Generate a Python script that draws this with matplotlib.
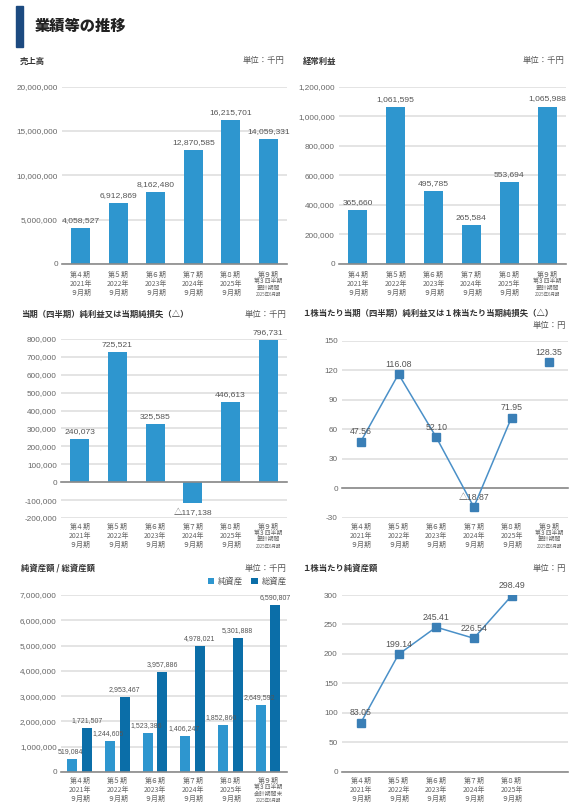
import numpy as np
import matplotlib
matplotlib.use("Agg")
from matplotlib import pyplot as plt
from matplotlib import font_manager
from matplotlib.patches import Patch, Rectangle

# --- data ---
periods = ["第４期", "第５期", "第６期", "第７期", "第８期", "第９期"]
fiscal_years = ["2021年", "2022年", "2023年", "2024年", "2025年"]
month_label = "９月期"
q3_cumulative = ["第３四半期", "累計期間", "2025年6月期"]
q3_end = ["第３四半期", "会計期間末", "2025年6月期"]

sales = [4058527, 6912869, 8162480, 12870585, 16215701, 14059331]
ordinary_profit = [365660, 1061595, 495785, 265584, 553694, 1065988]
net_income = [240073, 725521, 325585, -117138, 446613, 796731]
eps = [47.56, 116.08, 52.10, -18.87, 71.95, 128.35]
net_assets = [519084, 1244605, 1523386, 1406247, 1852860, 2649592]
total_assets = [1721507, 2953467, 3957886, 4978021, 5301888, 6590807]
bps = [83.05, 199.14, 245.41, 226.54, 298.49]

W, H = 588, 806
BAR = "#2e96cf"
DARK_BAR = "#0b6ea8"
LINE = "#4a90c8"
MARK = "#3a7fb6"
GRID = "#dcdcdc"
ZERO = "#8a8a8a"
TXT = "#333333"
TICK = "#666666"

_names = {f.name for f in font_manager.fontManager.ttflist}
NUM = "Liberation Sans Narrow" if "Liberation Sans Narrow" in _names else "Liberation Sans"
JP = ["Noto Sans CJK JP", "DejaVu Sans"]
NUMF = [NUM, "Noto Sans CJK JP", "DejaVu Sans"]
plt.rcParams["font.family"] = JP

fig = plt.figure(figsize=(W / 100, H / 100), dpi=100)


def px_axes(left, right, top, bottom):
    return fig.add_axes([left / W, 1 - bottom / H, (right - left) / W, (bottom - top) / H])


def fmt(v, dec=0):
    s = f"{abs(v):,.{dec}f}"
    return ("△" + s) if v < 0 else s


def setup(ax, ylim, step, dec=0):
    ax.set_xlim(-0.5, 5.5)
    ax.set_ylim(*ylim)
    ax.set_yticks(np.arange(ylim[0], ylim[1] + step / 2, step))
    ax.set_yticklabels([f"{t:,.0f}" for t in ax.get_yticks()], family=NUMF,
                       fontsize=5.9, color=TICK)
    ax.set_xticks([])
    ax.tick_params(axis="y", length=0, pad=3)
    for s in ax.spines.values():
        s.set_visible(False)
    ax.set_axisbelow(True)
    ax.grid(axis="y", color=GRID, lw=1.1)
    ax.axhline(0, color=ZERO, lw=1.2, zorder=3, clip_on=False)


def xlabels(ax, sub=None, n=6, o0=7.0):
    sp = 6.5
    for i in range(n):
        kw = dict(xy=(i, 0), xycoords=("data", "axes fraction"),
                  textcoords="offset points", ha="center", va="center",
                  color=TICK, annotation_clip=False)
        ax.annotate(periods[i], xytext=(0, -o0), fontsize=5, **kw)
        if i < len(fiscal_years):
            ax.annotate(fiscal_years[i], xytext=(0, -o0 - sp), fontsize=5, **kw)
            ax.annotate(month_label, xytext=(0, -o0 - 2 * sp), fontsize=5, **kw)
        else:
            ax.annotate(sub[0], xytext=(0, -o0 - 4.7), fontsize=4.2, **kw)
            ax.annotate(sub[1], xytext=(0, -o0 - 9.4), fontsize=4.2, **kw)
            ax.annotate(sub[2], xytext=(0, -o0 - 14.2), fontsize=3.2, **kw)


def bar_labels(ax, xs, vals, size=6.1):
    for x, v in zip(xs, vals):
        off = 4.3 if v >= 0 else -8.4
        ax.annotate(fmt(v), xy=(x, v), xytext=(0, off), textcoords="offset points",
                    ha="center", va="baseline", fontsize=size, color="#555555",
                    family=NUMF, zorder=6)


def head(x_left, x_right, y, title, unit, unit_y=None):
    fig.text(x_left / W, 1 - y / H, title, fontsize=6, fontweight="bold",
             color=TXT, va="center", ha="left")
    fig.text(x_right / W, 1 - (unit_y or y) / H, unit, fontsize=6,
             color="#555555", va="center", ha="right")


# main title
fig.patches.append(Rectangle((16 / W, 1 - 46.5 / H), 6.5 / W, 40.5 / H,
                             transform=fig.transFigure, color="#1c4a80"))
fig.text(35 / W, 1 - 26 / H, "業績等の推移", fontsize=11, fontweight="heavy",
         color="#222222", va="center", ha="left")

x = np.arange(len(periods))

# 売上高
ax1 = px_axes(62, 287, 86.7, 264)
setup(ax1, (0, 20000000), 5000000)
ax1.bar(x, sales, width=0.5, color=BAR)
bar_labels(ax1, x, sales)
xlabels(ax1, q3_cumulative, o0=7.9)
head(20, 284, 61, "売上高", "単位：千円")

# 経常利益
ax2 = px_axes(339, 566, 86.7, 264)
setup(ax2, (0, 1200000), 200000)
ax2.bar(x, ordinary_profit, width=0.5, color=BAR)
bar_labels(ax2, x, ordinary_profit)
xlabels(ax2, q3_cumulative, o0=7.9)
head(303, 564, 61, "経常利益", "単位：千円")

# 当期純利益
ax3 = px_axes(61, 287, 339, 518)
setup(ax3, (-200000, 800000), 100000)
ax3.bar(x, net_income, width=0.5, color=BAR)
bar_labels(ax3, x, net_income)
xlabels(ax3, q3_cumulative, o0=6.3)
head(21, 286, 314, "当期（四半期）純利益又は当期純損失（△）", "単位：千円")

# EPS
ax4 = px_axes(342, 568, 340.7, 518)
setup(ax4, (-30, 150), 30)
ax4.plot(x[:5], eps[:5], color=LINE, lw=1.1, zorder=4)
ax4.plot(x, eps, ls="none", marker="s", ms=5.2, color=MARK, zorder=5)
for xi, v in zip(x, eps):
    ax4.annotate(fmt(v, 2), xy=(xi, v), xytext=(0, 5.4), textcoords="offset points",
                 ha="center", va="baseline", fontsize=6.3, color="#555555",
                 family=NUMF, zorder=6)
xlabels(ax4, q3_cumulative, o0=6.3)
head(302, 566, 313.5, "１株当たり当期（四半期）純利益又は１株当たり当期純損失（△）",
     "単位：円", unit_y=326)

# 純資産額 / 総資産額
ax5 = px_axes(61, 287, 595, 772)
setup(ax5, (0, 7000000), 1000000)
ax5.bar(x - 0.2, net_assets, width=0.27, color=BAR, label="純資産")
ax5.bar(x + 0.19, total_assets, width=0.27, color=DARK_BAR, label="総資産")
bar_labels(ax5, x - 0.24, net_assets, size=5.0)
bar_labels(ax5, x + 0.19, total_assets, size=5.0)
xlabels(ax5, q3_end, o0=6.3)
head(21, 286, 568.5, "純資産額 / 総資産額", "単位：千円")
ax5.legend(loc="center right", bbox_to_anchor=(1.0, 1 + 13.5 / 177), ncol=2,
           frameon=False, fontsize=6, handlelength=0.75, handleheight=0.75,
           handletextpad=0.5, columnspacing=1.0, borderpad=0, borderaxespad=0,
           labelcolor="#555555")

# BPS
ax6 = px_axes(342, 568, 595, 771.7)
setup(ax6, (0, 300), 50)
ax6.plot(x[:len(bps)], bps, color=LINE, lw=1.1, marker="s", ms=5.2,
         mfc=MARK, mec=MARK, zorder=4)
for xi, v in zip(x, bps):
    ax6.annotate(fmt(v, 2), xy=(xi, v), xytext=(0, 5.4), textcoords="offset points",
                 ha="center", va="baseline", fontsize=6.3, color="#555555",
                 family=NUMF, zorder=6)
xlabels(ax6, n=len(bps), o0=6.8)
head(302, 566, 568.5, "１株当たり純資産額", "単位：円")

fig.savefig("out.png", dpi=100)
